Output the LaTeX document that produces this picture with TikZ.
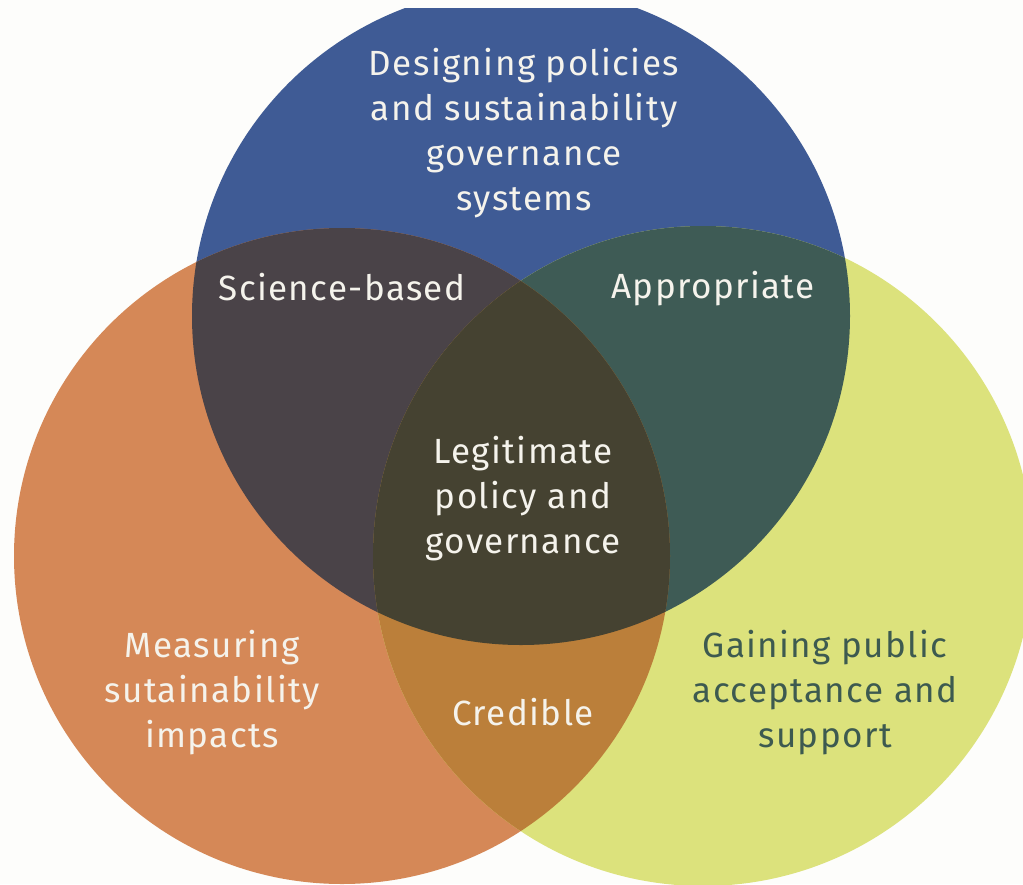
\documentclass[tikz,border=0pt]{standalone}
\usepackage{fontspec}
\setmainfont{Fira Sans}[LetterSpace=4]
\definecolor{paper}{HTML}{FDFDFB}
\definecolor{blueset}{HTML}{3F5B95}
\definecolor{orangeset}{HTML}{D58857}
\definecolor{greenset}{HTML}{DCE27C}
\definecolor{bluexorange}{HTML}{4A4348}
\definecolor{bluexgreen}{HTML}{3E5B55}
\definecolor{orangexgreen}{HTML}{BB7F3A}
\definecolor{allthree}{HTML}{454231}
\definecolor{lighttext}{HTML}{F5F3EC}
\definecolor{darktext}{HTML}{3D5A50}
\tikzset{
  lbl/.style={align=center, inner sep=0pt, text=lighttext,
    font=\fontsize{35pt}{45pt}\selectfont},
  darklbl/.style={lbl, text=darktext}
}
\begin{document}
\begin{tikzpicture}[x=1pt,y=-1pt]
\useasboundingbox (0,0) rectangle (1023,884);
\fill[paper] (0,0) rectangle (1023,884);
\coordinate (cB) at (521,316);
\coordinate (cO) at (342,556);
\coordinate (cG) at (703,556);
\begin{scope}
  \clip (0,8) rectangle (1023,884);
  % base sets
  \fill[blueset] (cB) circle[radius=329pt];
  \fill[orangeset] (cO) circle[radius=328pt];
  \fill[greenset] (cG) circle[radius=330pt];
  % pairwise overlaps
  \begin{scope}
    \clip (cB) circle[radius=329pt];
    \fill[bluexorange] (cO) circle[radius=328pt];
    \fill[bluexgreen] (cG) circle[radius=330pt];
  \end{scope}
  \begin{scope}
    \clip (cO) circle[radius=328pt];
    \fill[orangexgreen] (cG) circle[radius=330pt];
    % centre overlap
    \clip (cB) circle[radius=329pt];
    \fill[allthree] (cG) circle[radius=330pt];
  \end{scope}
\end{scope}
% labels
\node[lbl] (design) at (524,133) {Designing policies\\and sustainability\\governance\\systems};
\node[lbl] (science) at (342,287) {Science-based};
\node[lbl] (approp) at (713,289) {Appropriate};
\node[lbl] (legit) at (523,499) {Legitimate\\policy and\\governance};
\node[lbl] (measure) at (212,693) {Measuring\\sutainability\\impacts};
\node[lbl] (cred) at (523,712) {Credible};
\node[darklbl] (public) at (825,693) {Gaining public\\acceptance and\\support};
\end{tikzpicture}
\end{document}
